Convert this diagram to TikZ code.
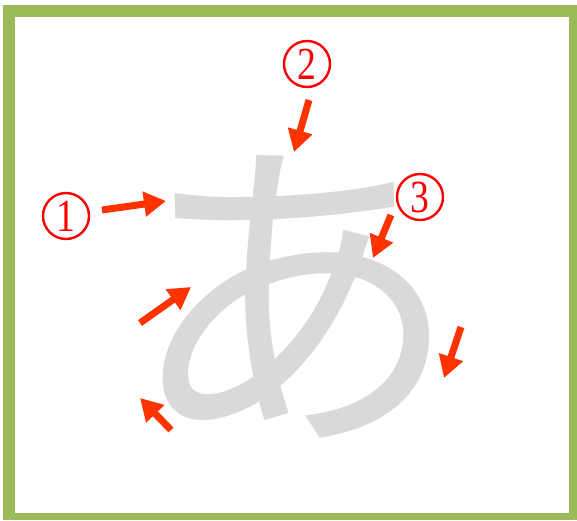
\documentclass[tikz,border=0pt]{standalone}
\usepackage{fontspec}
\setmainfont{Liberation Serif}
\newfontfamily\jpfont{Noto Sans CJK JP}
\usetikzlibrary{arrows.meta}
\definecolor{framegreen}{HTML}{9BBB59}
\definecolor{arrowred}{HTML}{FF3300}
\definecolor{glyphgray}{HTML}{D9D9D9}
\newcommand{\narrowdigit}[1]{\scalebox{0.82}[1]{#1}}
\tikzset{
  strokearrow/.style={draw=arrowred, line width=7pt, -{Triangle[length=22pt,width=24pt]}},
  numcircle/.style={circle, draw=red, line width=2.4pt, text=red, minimum size=46pt, inner sep=0pt,
    font=\fontsize{46}{46}\selectfont}
}
\begin{document}
\begin{tikzpicture}[x=1pt,y=-1pt]
\useasboundingbox (0,0) rectangle (577,520);
\fill[white] (0,0) rectangle (577,520);
\fill[framegreen] (3,5) rectangle (577,520);
\fill[white] (15,17) rectangle (569,513);
% character
\node[anchor=base, inner sep=0pt, text=glyphgray, font=\jpfont\fontsize{335}{335}\selectfont] (kana) at (294,421) {あ};
% numbers
\node[numcircle] (n1) at (66,216) {\narrowdigit{1}};
\node[numcircle] (n2) at (307,64) {\narrowdigit{2}};
\node[numcircle] (n3) at (420,197) {\narrowdigit{3}};
% arrows
\coordinate (a1s) at (102,210); \coordinate (a1e) at (166,201);
\coordinate (a2s) at (309,100); \coordinate (a2e) at (294,152);
\coordinate (a3s) at (391,215); \coordinate (a3e) at (373,258);
\coordinate (a4s) at (140,323); \coordinate (a4e) at (191,287);
\coordinate (a5s) at (171,430); \coordinate (a5e) at (140,398);
\coordinate (a6s) at (461,327); \coordinate (a6e) at (444,378);
\draw[strokearrow] (a1s) -- (a1e);
\draw[strokearrow] (a2s) -- (a2e);
\draw[strokearrow] (a3s) -- (a3e);
\draw[strokearrow] (a4s) -- (a4e);
\draw[strokearrow] (a5s) -- (a5e);
\draw[strokearrow] (a6s) -- (a6e);
\end{tikzpicture}
\end{document}
